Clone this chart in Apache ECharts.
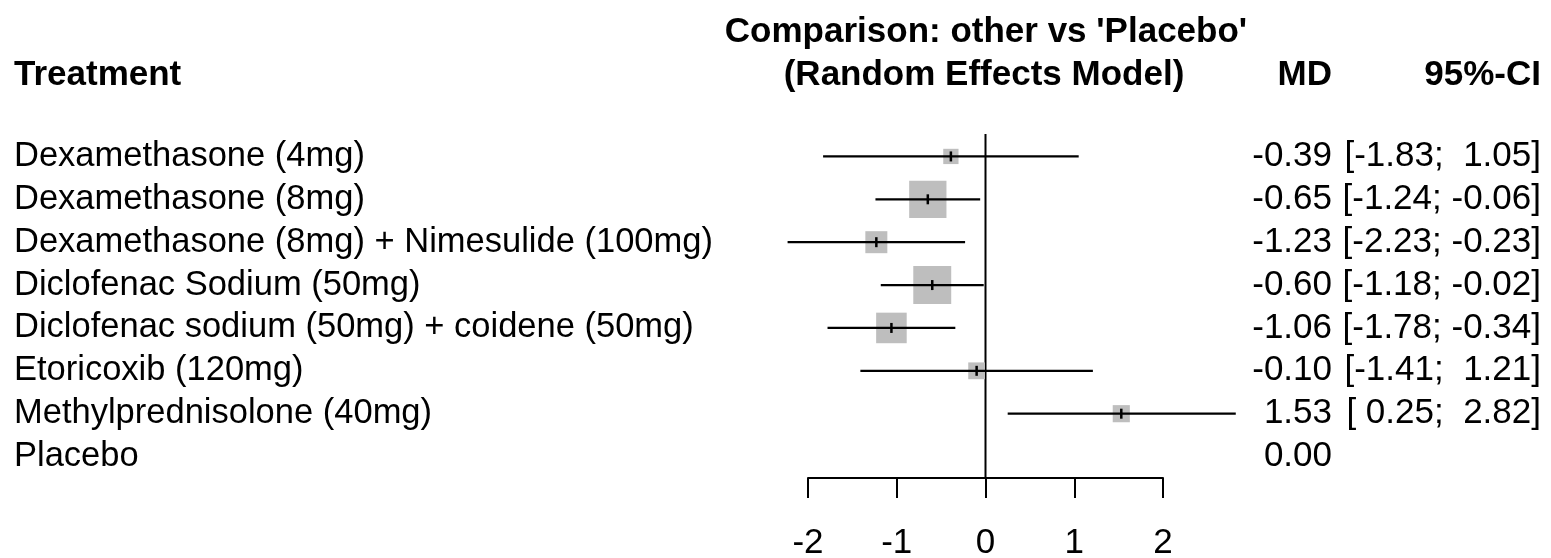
<!DOCTYPE html>
<html>
<head>
<meta charset="utf-8">
<script src="https://cdn.jsdelivr.net/npm/echarts@6/dist/echarts.min.js"></script>
<style>
  html, body { margin: 0; padding: 0; background: #fff; }
  #chart { width: 1551px; height: 558px; }
</style>
</head>
<body>
<div id="chart"></div>
<script>
// Network meta-analysis: each treatment against Placebo (random effects model)
const treatments = [
  'Dexamethasone (4mg)',
  'Dexamethasone (8mg)',
  'Dexamethasone (8mg) + Nimesulide (100mg)',
  'Diclofenac Sodium (50mg)',
  'Diclofenac sodium (50mg) + coidene (50mg)',
  'Etoricoxib (120mg)',
  'Methylprednisolone (40mg)',
  'Placebo'
];
const meanDiff = [-0.39, -0.65, -1.23, -0.60, -1.06, -0.10, 1.53, 0.00];
const ciLower  = [-1.83, -1.24, -2.23, -1.18, -1.78, -1.41, 0.25, null];
const ciUpper  = [ 1.05, -0.06, -0.23, -0.02, -0.34,  1.21, 2.82, null];
const xTickValues = [-2, -1, 0, 1, 2];

const FONT = '"Liberation Sans", Arial, Helvetica, sans-serif';
const FS = 35;
const FS_ROW = 34.5;
const SQUARE_K = 22;        // square side (px) = SQUARE_K / CI half-width  (~ 1/SE)

const fmt = v => v.toFixed(2);
const fmtCI = (v) => (v < 0 ? '' : ' ') + v.toFixed(2);
const ciText = (lo, hi) => (lo == null ? '' : '[' + fmtCI(lo) + ';' + (hi < 0 ? ' ' : '  ') + hi.toFixed(2) + ']');

const rows = treatments.map((t, i) => [meanDiff[i], i, ciLower[i], ciUpper[i]]);

const chart = echarts.init(document.getElementById('chart'), null, { renderer: 'canvas' });

const option = {
  backgroundColor: '#ffffff',
  animation: false,
  textStyle: { fontFamily: FONT, color: '#000' },
  grid: { left: 808, width: 355, top: 135, bottom: 80, containLabel: false, outerBoundsMode: 'none' },
  xAxis: {
    type: 'value',
    min: -2, max: 2, interval: 1,
    splitLine: { show: false },
    axisLine: { show: true, onZero: false, lineStyle: { color: '#000', width: 2 } },
    axisTick: { show: true, inside: false, length: 20, lineStyle: { color: '#000', width: 2 } },
    axisLabel: {
      show: true, margin: 48, fontSize: FS, color: '#000', fontFamily: FONT,
      formatter: v => (xTickValues.indexOf(v) >= 0 ? String(v) : '')
    }
  },
  yAxis: {
    type: 'category',
    data: treatments,
    inverse: true,
    axisLine: { show: false },
    axisTick: { show: false },
    splitLine: { show: false },
    axisLabel: {
      show: true, interval: 0, align: 'left', margin: 794,
      fontSize: FS_ROW, color: '#000', fontFamily: FONT
    }
  },
  graphic: [
    { type: 'text', x: 14, y: 75, style: { text: 'Treatment', font: 'bold ' + FS + 'px ' + FONT, fill: '#000', align: 'left', verticalAlign: 'middle' } },
    { type: 'text', x: 986, y: 32, style: { text: "Comparison: other vs 'Placebo'", font: 'bold ' + FS + 'px ' + FONT, fill: '#000', align: 'center', verticalAlign: 'middle' } },
    { type: 'text', x: 984, y: 75, style: { text: '(Random Effects Model)', font: 'bold ' + FS + 'px ' + FONT, fill: '#000', align: 'center', verticalAlign: 'middle' } },
    { type: 'text', x: 1332, y: 75, style: { text: 'MD', font: 'bold ' + FS + 'px ' + FONT, fill: '#000', align: 'right', verticalAlign: 'middle' } },
    { type: 'text', x: 1541, y: 75, style: { text: '95%-CI', font: 'bold ' + FS + 'px ' + FONT, fill: '#000', align: 'right', verticalAlign: 'middle' } }
  ],
  series: [
    {
      // vertical reference line at no effect
      type: 'custom',
      clip: false,
      data: [[0]],
      renderItem: function (params, api) {
        const cs = params.coordSys;
        const x = api.coord([api.value(0), 0])[0];
        return {
          type: 'line',
          shape: { x1: x, y1: cs.y - 1, x2: x, y2: cs.y + cs.height },
          style: { stroke: '#000', lineWidth: 2 }
        };
      },
      silent: true, z: 1
    },
    {
      // squares, confidence intervals and right-hand value columns
      type: 'custom',
      clip: false,
      data: rows,
      renderItem: function (params, api) {
        const est = api.value(0), idx = api.value(1);
        const lo = ciLower[idx], hi = ciUpper[idx];
        const c = api.coord([est, idx]);
        const children = [];
        if (lo != null && hi != null) {
          const pLo = api.coord([lo, idx]);
          const pHi = api.coord([hi, idx]);
          const side = SQUARE_K / ((hi - lo) / 2);
          children.push({
            type: 'rect',
            shape: { x: c[0] - side / 2, y: c[1] - side / 2, width: side, height: side },
            style: { fill: '#BEBEBE' }
          });
          children.push({
            type: 'line',
            shape: { x1: pLo[0], y1: c[1], x2: pHi[0], y2: c[1] },
            style: { stroke: '#000', lineWidth: 2.2 }
          });
          children.push({
            type: 'line',
            shape: { x1: c[0], y1: c[1] - 5, x2: c[0], y2: c[1] + 5 },
            style: { stroke: '#000', lineWidth: 2.5 }
          });
        }
        children.push({
          type: 'text',
          style: { x: 1332, y: c[1], text: fmt(est), font: FS + 'px ' + FONT, fill: '#000', align: 'right', verticalAlign: 'middle' }
        });
        children.push({
          type: 'text',
          style: { x: 1541, y: c[1], text: ciText(lo, hi), font: FS + 'px ' + FONT, fill: '#000', align: 'right', verticalAlign: 'middle' }
        });
        return { type: 'group', children: children };
      },
      silent: true, z: 2
    }
  ]
};

chart.setOption(option);
</script>
</body>
</html>
